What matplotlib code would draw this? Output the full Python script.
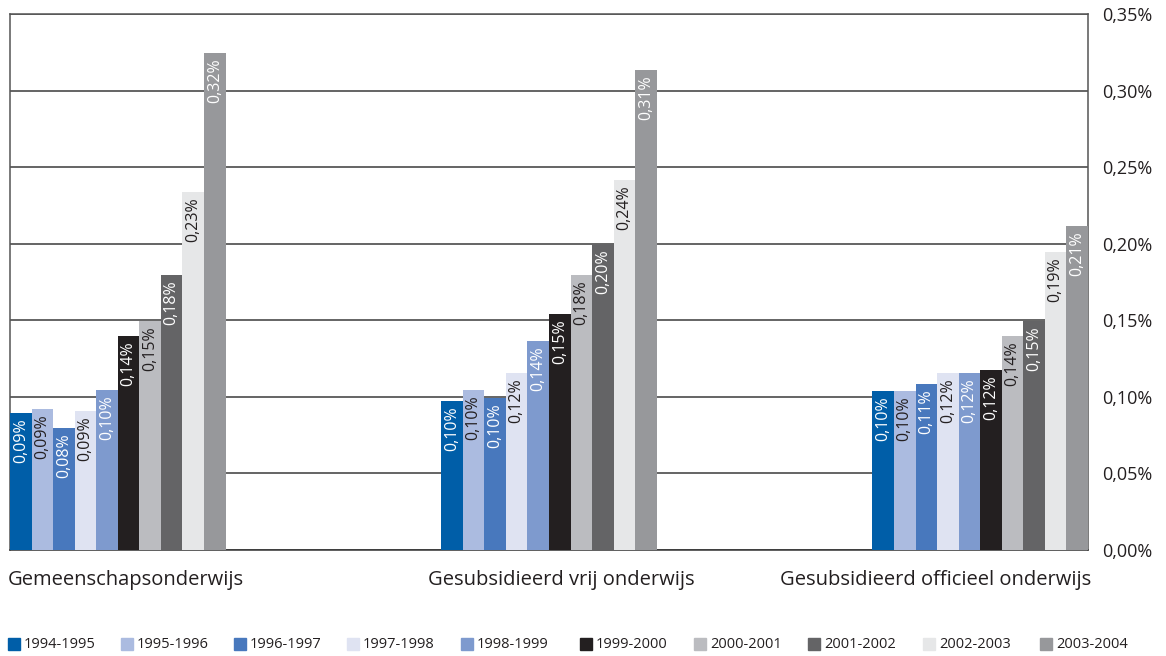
import matplotlib.pyplot as plt
import numpy as np

plt.rcParams['font.family'] = ['Open Sans', 'DejaVu Sans']

categories = ['Gemeenschapsonderwijs', 'Gesubsidieerd vrij onderwijs', 'Gesubsidieerd officieel onderwijs']
years = ['1994-1995', '1995-1996', '1996-1997', '1997-1998', '1998-1999',
         '1999-2000', '2000-2001', '2001-2002', '2002-2003', '2003-2004']
# percentages per year, one list per category
gemeenschap = [0.0895, 0.0920, 0.0797, 0.0908, 0.1045, 0.1398, 0.1496, 0.1796, 0.2338, 0.3246]
vrij = [0.0973, 0.1045, 0.0993, 0.1156, 0.1365, 0.1541, 0.1796, 0.1999, 0.2417, 0.3135]
officieel = [0.1039, 0.1039, 0.1084, 0.1156, 0.1156, 0.1176, 0.1398, 0.1496, 0.1946, 0.2116]

colors = ['#005ea8', '#abbbe0', '#4878bd', '#dfe3f2', '#7e9ace',
          '#231f20', '#bbbcc0', '#646466', '#e6e7e8', '#97989b']
text_colors = ['white', '#231f20', 'white', '#231f20', 'white',
               'white', '#231f20', 'white', '#231f20', 'white']

data = np.array([gemeenschap, vrij, officieel])

fig = plt.figure(figsize=(11.66, 6.56), dpi=100)
ax = fig.add_axes([10/1166, 106/656, 1078/1166, 536/656])

group_start = [0, 20, 40]
for j, yr in enumerate(years):
    xs = [g + j + 0.5 for g in group_start]
    ax.bar(xs, data[:, j], width=1.0, color=colors[j], label=yr, zorder=3)
    for x, v in zip(xs, data[:, j]):
        ax.text(x, v - 0.0035, ('%.2f%%' % v).replace('.', ','), rotation=90,
                ha='center', va='top', fontsize=11.5, color=text_colors[j], zorder=4)

ax.set_xlim(0, 50)
ax.set_ylim(0, 0.35)
ax.set_yticks(np.arange(0, 0.351, 0.05))
ax.set_yticklabels([('%.2f%%' % t).replace('.', ',') for t in np.arange(0, 0.351, 0.05)],
                   fontsize=13, color='#231f20')
ax.yaxis.tick_right()
ax.tick_params(axis='y', length=0, pad=10)
ax.set_xticks([])
ax.grid(axis='y', color='#3a3a3a', linewidth=1.1, zorder=0)
for s in ax.spines.values():
    s.set_color('#555555')
    s.set_linewidth(1.1)
ax.spines['bottom'].set_color('#333333')

# category names below the bars
label_x = [-0.1, 19.4, 35.7]
for x, c in zip(label_x, categories):
    ax.text(x, -0.013, c, ha='left', va='top', fontsize=14.5, color='#231f20')

# legend row: one square and label per year
leg_x = [8, 121, 234, 347, 461, 580, 694, 808, 923, 1040]
for px, col, lab in zip(leg_x, colors, years):
    fig.patches.append(plt.Rectangle((px/1166, 6/656), 12/1166, 12/656,
                                     transform=fig.transFigure, color=col,
                                     figure=fig))
    fig.text((px + 16)/1166, 12/656, lab, ha='left', va='center', fontsize=10.5,
             color='#231f20')

fig.savefig('out.png', dpi=100)
